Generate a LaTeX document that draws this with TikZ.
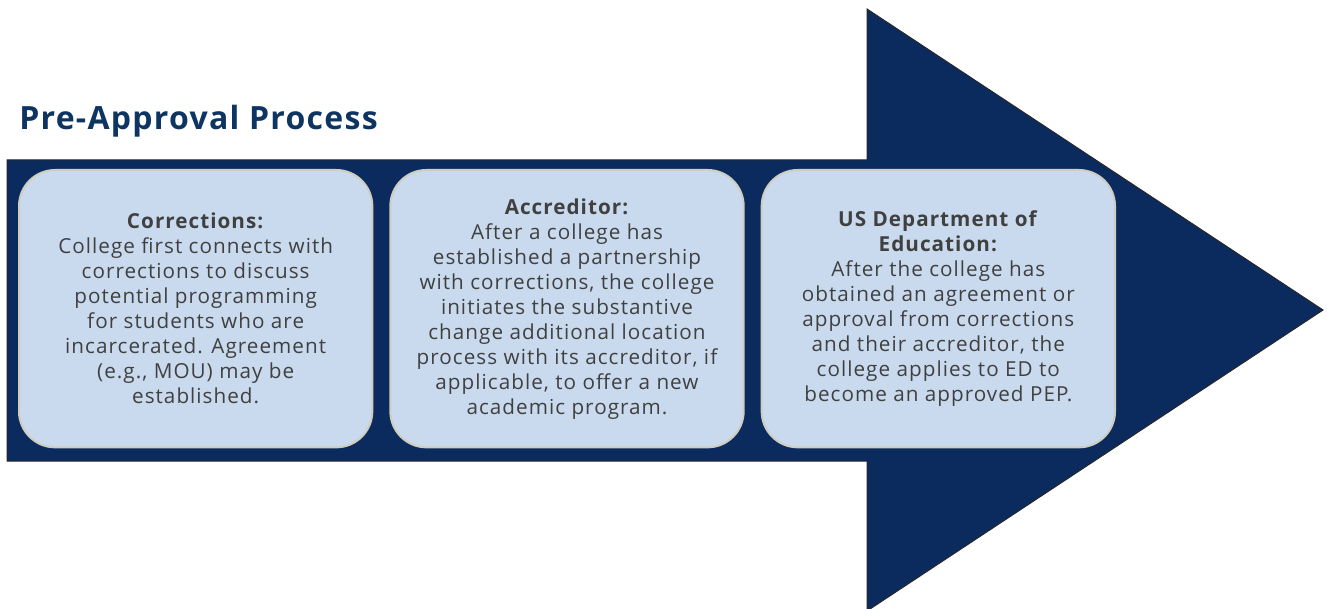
\documentclass[tikz,border=0pt]{standalone}
\usepackage{fontspec}
\setmainfont{Open Sans}
\usetikzlibrary{positioning}
\definecolor{navy}{HTML}{0B2B5E}
\definecolor{boxfill}{HTML}{C9DAEE}
\definecolor{boxline}{HTML}{CFCDC0}
\definecolor{txtgray}{HTML}{404040}
\definecolor{titleblue}{HTML}{0E3461}

\begin{document}
\begin{tikzpicture}[x=0.75pt,y=-0.75pt,node distance=12pt,
  stagebox/.style={rectangle,rounded corners=27pt,fill=boxfill,draw=boxline,line width=1.5pt,
    minimum width=265pt,minimum height=208pt,align=center,text=txtgray,
    font=\fontsize{15.5}{18.75}\selectfont\addfontfeatures{LetterSpace=5}}]

  \useasboundingbox (0,0) rectangle (1327,609);

  % big arrow
  \draw[fill=navy,draw=black!85,line width=0.75pt]
    (7,160) -- (867,160) -- (867,9) -- (1323,310) -- (867,611) -- (867,461) -- (7,461) -- cycle;

  \node[anchor=west,inner sep=0pt,text=titleblue,
    font=\bfseries\fontsize{24}{28}\selectfont\addfontfeatures{LetterSpace=4}] (title) at (19,121) {Pre-Approval Process};

  \node[stagebox,anchor=north west] (corrections) at (18,169) {\textbf{Corrections:}\\
    College first connects with\\ corrections to discuss\\ potential programming\\
    for students who are\\ incarcerated. Agreement\\ (e.g., MOU) may be\\ established.};
  \node[stagebox,right=of corrections] (accreditor) {\textbf{Accreditor:}\\
    After a college has\\ established a partnership\\ with corrections, the college\\
    initiates the substantive\\ change additional location\\ process with its accreditor, if\\
    applicable, to offer a new\\ academic program.};
  \node[stagebox,right=of accreditor] (education) {\textbf{US Department of}\\ \textbf{Education:}\\
    After the college has\\ obtained an agreement or\\ approval from corrections\\
    and their accreditor, the\\ college applies to ED to\\ become an approved PEP.};
\end{tikzpicture}
\end{document}
